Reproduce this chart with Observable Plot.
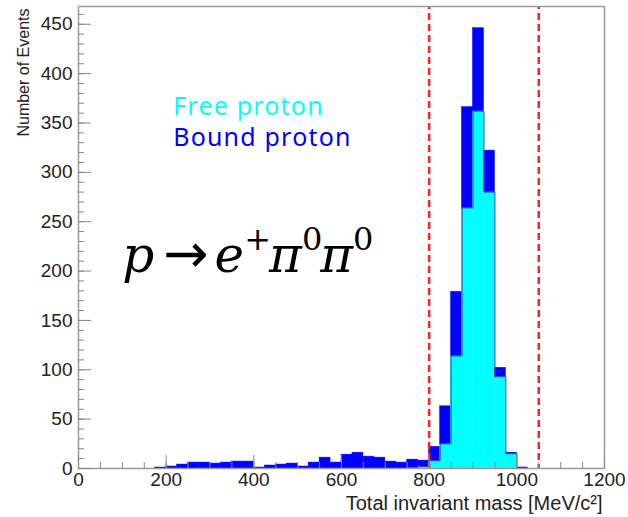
<!DOCTYPE html>
<html>
<head>
<meta charset="utf-8">
<script src="https://cdn.jsdelivr.net/npm/d3@7"></script>
<script src="https://cdn.jsdelivr.net/npm/@observablehq/plot@0.6"></script>
<style>
  body { margin: 0; background: #fff; }
  #chart svg { display: block; }
</style>
</head>
<body>
<div id="chart"></div>
<script>
// Histogram of the total invariant mass for p -> e+ pi0 pi0 candidates (25 MeV bins)
const binWidth = 25;
const binStart = [175, 200, 225, 250, 275, 300, 325, 350, 375, 400, 425, 450, 475, 500,
                  525, 550, 575, 600, 625, 650, 675, 700, 725, 750, 775, 800, 825, 850,
                  875, 900, 925, 950, 975, 1000];
const freeProton  = [0, 0, 0, 0, 0, 0, 0, 0, 0, 0, 0, 0, 0, 0,
                     0, 0, 0, 0, 0, 0, 0, 0, 0, 1, 2, 8, 25, 114,
                     264, 362, 280, 93, 15, 0];
const boundProton = [1, 2, 4, 6, 6, 5, 6, 7, 7, 1, 3, 4, 5, 2,
                     6, 11, 6, 14, 16, 12, 11, 7, 6, 8, 6, 14, 38, 65,
                     102, 84, 42, 9, 1, 1];

// Signal window (MeV/c^2)
const massCuts = [800, 1050];

// Axis ticks
const xMajor = d3.range(0, 1201, 200);
const xMinor = d3.range(0, 1201, 50);
const yMajor = d3.range(0, 451, 50);
const yMinor = d3.range(0, 461, 10);

const samples = ["Free proton", "Bound proton"];
const sampleColors = ["#00ffff", "#0000ff"];

// Free protons at the bottom, bound protons stacked above them
const rows = binStart.flatMap((lo, i) => [
  {lo, hi: lo + binWidth, y1: 0, y2: freeProton[i], sample: samples[0]},
  {lo, hi: lo + binWidth, y1: freeProton[i], y2: freeProton[i] + boundProton[i], sample: samples[1]}
]);

// Step outline of the free-proton histogram
const freeOutline = binStart.map((lo, i) => ({x: lo, y: freeProton[i]}))
  .concat([{x: binStart[binStart.length - 1] + binWidth, y: 0}]);

const reaction = "p → e+π0π0";
const plain = d => String(d);

const chart = Plot.plot({
  width: 628,
  height: 517,
  marginLeft: 78,
  marginRight: 24,
  marginTop: 6,
  marginBottom: 49,
  style: {fontFamily: "'Liberation Sans', Arial, Helvetica, sans-serif", fontSize: "19px", color: "#222", background: "#fff"},
  x: {domain: [0, 1200], label: null},
  y: {domain: [0, 468], label: null},
  color: {domain: samples, range: sampleColors},
  marks: [
    Plot.rect(rows, {x1: "lo", x2: "hi", y1: "y1", y2: "y2", fill: "sample", stroke: "sample", strokeWidth: 0.5}),
    Plot.line(freeOutline, {x: "x", y: "y", curve: "step-after", stroke: "#3a3ab8", strokeWidth: 1}),
    Plot.ruleX(massCuts, {stroke: "#ff2222", strokeWidth: 2.5, strokeDasharray: "7,4", strokeDashoffset: -7}),
    Plot.frame({stroke: "#9a9a9a", strokeWidth: 1.5}),
    Plot.axisX(xMajor, {tickSize: -13, tickFormat: () => "", stroke: "#888", label: null}),
    Plot.axisX(xMinor, {tickSize: -6, tickFormat: () => "", stroke: "#888", label: null}),
    Plot.axisX(xMajor, {tickSize: 0, tickPadding: 4, tickFormat: plain, fill: "#222", label: null}),
    Plot.axisY(yMajor, {tickSize: -13, tickFormat: () => "", stroke: "#888", label: null}),
    Plot.axisY(yMinor, {tickSize: -6, tickFormat: () => "", stroke: "#888", label: null}),
    Plot.axisY(yMajor, {tickSize: 0, tickPadding: 6, tickFormat: plain, fill: "#222", label: null}),
    Plot.text(["Total invariant mass [MeV/c²]"], {
      frameAnchor: "bottom-right", textAnchor: "end", lineAnchor: "bottom",
      dx: -2, dy: 41, fontSize: 20, fill: "#222"
    }),
    Plot.text(["Number of Events"], {
      frameAnchor: "top-left", textAnchor: "end", lineAnchor: "middle",
      rotate: -90, dx: -55, dy: 2, fontSize: 16, fill: "#222"
    }),
    Plot.text(samples, {
      x: [216, 216], y: [358, 327], text: d => d, fill: sampleColors,
      textAnchor: "start", lineAnchor: "bottom", fontSize: 25,
      fontFamily: "'Noto Sans', sans-serif"
    }),
    Plot.text([reaction], {
      x: [100], y: [199], textAnchor: "start", lineAnchor: "bottom",
      fontSize: 50, fill: "#000", fontFamily: "'DejaVu Serif', serif"
    })
  ]
});

const svg = d3.select(chart);

// Legend lettering is set a little wide
svg.selectAll("text").filter(function () { return samples.includes(this.textContent); })
  .attr("letter-spacing", "1.2px");

// Typeset the reaction with italic symbols and raised charges
svg.selectAll("text").filter(function () { return this.textContent === reaction; }).each(function () {
  const t = d3.select(this);
  t.selectAll("*").remove();
  t.text(null);
  const parts = [
    {s: "p", it: true},
    {s: "→", arrow: true},
    {s: "e", it: true, dx: 6},
    {s: "+", sup: true},
    {s: "π", it: true, dx: -2},
    {s: "0", sup: true},
    {s: "π", it: true, dx: -2},
    {s: "0", sup: true}
  ];
  let raised = false;
  for (const p of parts) {
    const ts = t.append("tspan").text(p.s);
    if (p.sup) {
      ts.attr("font-size", 32).attr("font-style", "normal");
      if (!raised) ts.attr("dy", -22);
      raised = true;
    } else {
      if (p.arrow) {
        ts.attr("font-family", "'DejaVu Sans', sans-serif").attr("font-size", 54).attr("dx", 9);
      } else {
        ts.attr("font-style", p.it ? "italic" : "normal");
      }
      if (p.dx) ts.attr("dx", p.dx);
      if (raised) { ts.attr("dy", 22); raised = false; }
    }
  }
});

document.getElementById("chart").appendChild(chart);
</script>
</body>
</html>
